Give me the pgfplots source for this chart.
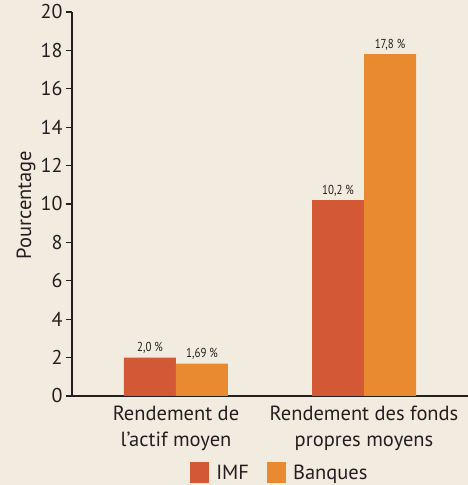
\documentclass[border=0pt]{standalone}
\usepackage{pgfplots}
\pgfplotsset{compat=1.18}
\usepackage{fontspec}
\setmainfont{PT Sans}
\newfontfamily\condfont[FakeStretch=0.84]{PT Sans}
\definecolor{bgcol}{HTML}{F2ECE0}
\definecolor{imf}{HTML}{D35836}
\definecolor{banq}{HTML}{E98A31}
\definecolor{txt}{HTML}{231F20}
\begin{document}
\begin{tikzpicture}
\path[use as bounding box, fill=bgcol] (0,0) rectangle (468pt,485pt);
\begin{axis}[
  at={(72pt,89pt)}, anchor=south west,
  scale only axis, width=396pt, height=384pt,
  xmin=-0.553, xmax=1.553, ymin=0, ymax=20,
  axis x line=bottom, axis y line=left,
  axis line style={-, line width=1.2pt, color=txt},
  ytick={0,2,...,20},
  ytick style={line width=1.2pt, color=txt},
  tick align=outside, major tick length=6pt,
  xtick={0,1}, xtick style={draw=none},
  xticklabels={{Rendement de\\l’actif moyen},{Rendement des fonds\\propres moyens}},
  xticklabel style={align=center, font=\fontsize{20.5}{26}\selectfont, text=txt},
  yticklabel style={font=\fontsize{20}{22}\selectfont, text=txt},
  /pgf/number format/assume math mode=true,
  ylabel={Pourcentage},
  ylabel style={at={(axis description cs:-0.116,0.497)}, anchor=center, font=\fontsize{20.5}{22}\selectfont, text=txt},
  ybar=0pt, bar width=52pt,
  nodes near coords, point meta=explicit symbolic,
  every node near coord/.append style={font=\condfont\fontsize{13}{15}\selectfont, text=txt, inner sep=4pt},
  legend columns=2,
  legend style={at={(0.525,-0.199)}, anchor=center, draw=none, fill=none,
    font=\fontsize{20.5}{22}\selectfont, text=txt, inner sep=1pt,
    /tikz/every even column/.append style={column sep=16pt}},
  legend image code/.code={\fill[#1] (0pt,-10pt) rectangle (19pt,11pt);},
]
\addplot[fill=imf, draw=none] coordinates {(0,2.0) [{2,0 \%}] (1,10.2) [{10,2 \%}]};
\addplot[fill=banq, draw=none] coordinates {(0,1.69) [{1,69 \%}] (1,17.8) [{17,8 \%}]};
\legend{\hspace{5pt}IMF, \hspace{5pt}Banques}
\end{axis}
\end{tikzpicture}
\end{document}
